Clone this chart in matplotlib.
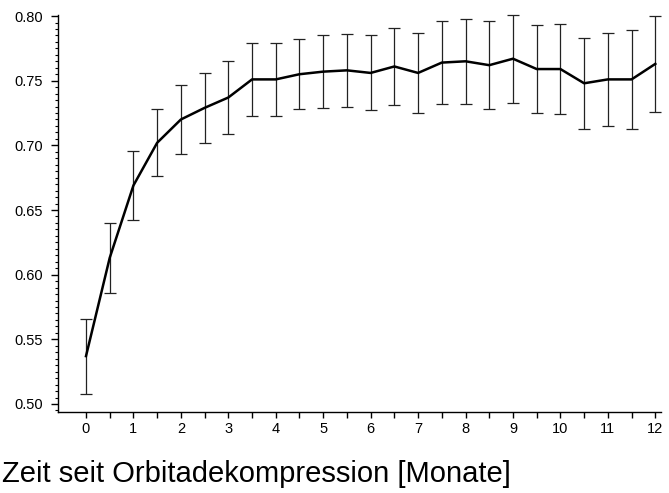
import numpy as np
import matplotlib.pyplot as plt
from matplotlib.ticker import MultipleLocator

plt.rcParams['font.family'] = ['Liberation Sans', 'DejaVu Sans']

# Monate nach der Orbitadekompression, halbmonatlich
monate = np.arange(0, 12.5, 0.5)
mittel = [0.537, 0.613, 0.669, 0.702, 0.720, 0.729, 0.737, 0.751, 0.751,
          0.755, 0.757, 0.758, 0.756, 0.761, 0.756, 0.764, 0.765, 0.762,
          0.767, 0.759, 0.759, 0.748, 0.751, 0.751, 0.763]
fehler = [0.029, 0.027, 0.027, 0.026, 0.027, 0.027, 0.028, 0.028, 0.028,
          0.027, 0.028, 0.028, 0.029, 0.030, 0.031, 0.032, 0.033, 0.034,
          0.034, 0.034, 0.035, 0.035, 0.036, 0.038, 0.037]

fig = plt.figure(figsize=(6.69, 4.93), dpi=100)
ax = fig.add_axes([58 / 669, 81 / 493, 603 / 669, 397 / 493])

ax.errorbar(monate, mittel, yerr=fehler, color='black', lw=1.8,
            elinewidth=0.9, capsize=4, capthick=0.9, ecolor='#222222',
            clip_on=False)

ax.set_xlim(-0.59, 12.12)
ax.set_ylim(0.4938, 0.8008)

ax.spines['top'].set_visible(False)
ax.spines['right'].set_visible(False)
ax.spines['left'].set_linewidth(1.0)
ax.spines['bottom'].set_linewidth(1.0)

ax.set_xticks(np.arange(0, 12.5, 0.5))
ax.set_xticklabels([str(int(v)) if v == int(v) else '' for v in np.arange(0, 12.5, 0.5)])
ax.set_yticks([0.50, 0.55, 0.60, 0.65, 0.70, 0.75, 0.80])
ax.set_yticklabels(['0.50', '0.55', '0.60', '0.65', '0.70', '0.75', '0.80'])
ax.yaxis.set_minor_locator(MultipleLocator(0.005))

ax.tick_params(axis='x', length=4.5, width=1.0, labelsize=10.5, pad=3)
ax.tick_params(axis='y', which='major', length=5, width=1.0, labelsize=10.5, pad=6)
ax.tick_params(axis='y', which='minor', length=2.5, width=0.8)

fig.text(0.003, 11 / 493, 'Zeit seit Orbitadekompression [Monate]',
         fontsize=21, ha='left', va='baseline')

fig.savefig('out.png', dpi=100)
